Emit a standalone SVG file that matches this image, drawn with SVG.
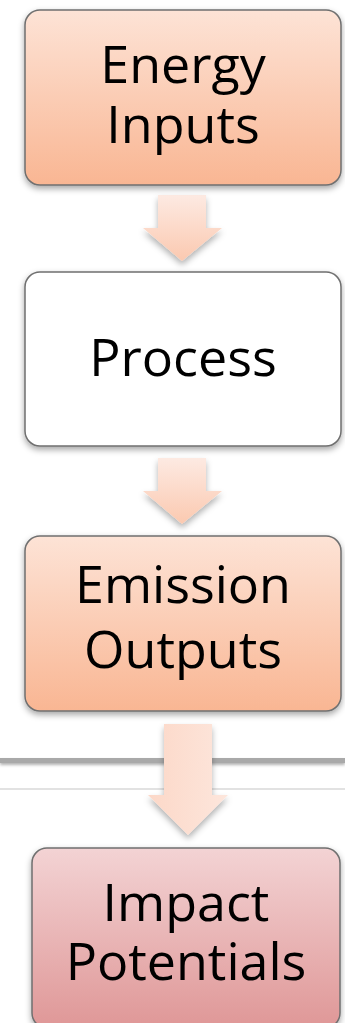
<svg xmlns="http://www.w3.org/2000/svg" width="345" height="1023" viewBox="0 0 345 1023">
<defs>
<linearGradient id="peach" x1="0" y1="0" x2="0" y2="1">
<stop offset="0" stop-color="#fde3d6"/>
<stop offset="1" stop-color="#f9b693"/>
</linearGradient>
<linearGradient id="pink" x1="0" y1="0" x2="0" y2="1">
<stop offset="0" stop-color="#f3d3d4"/>
<stop offset="1" stop-color="#df9797"/>
</linearGradient>
<linearGradient id="arrowg" x1="0" y1="0" x2="0" y2="1">
<stop offset="0" stop-color="#fdeae2"/>
<stop offset="1" stop-color="#fbc9b0"/>
</linearGradient>
<linearGradient id="arrowh" x1="0" y1="0" x2="1" y2="0">
<stop offset="0" stop-color="#fcd8c8"/>
<stop offset="1" stop-color="#fde6dc"/>
</linearGradient>
<filter id="sh" x="-10%" y="-10%" width="120%" height="130%">
<feDropShadow dx="0" dy="3" stdDeviation="3" flood-color="#000" flood-opacity="0.35"/>
</filter>
<filter id="ash" x="-20%" y="-20%" width="140%" height="150%">
<feDropShadow dx="0" dy="4" stdDeviation="3" flood-color="#000" flood-opacity="0.3"/>
</filter>
<filter id="lsh" x="-5%" y="-100%" width="110%" height="400%">
<feDropShadow dx="0" dy="2" stdDeviation="1.5" flood-color="#000" flood-opacity="0.3"/>
</filter>
</defs>
<style>
.box{stroke:#6f6f6f;stroke-width:1.5;filter:url(#sh)}
.t{font-family:"Open Sans","Noto Sans",sans-serif;font-size:52px;fill:#000;text-anchor:middle}
.arr{filter:url(#ash)}
</style>
<g id="background">
<rect x="0" y="758" width="345" height="5" fill="#a9a9a9" filter="url(#lsh)"/>
<rect x="0" y="788" width="345" height="2" fill="#e2e2e2"/>
</g>
<g id="connectors">
<path class="arr" d="M158,195 H206 V228 H222 L182,261 L143,228 H158 Z" fill="url(#arrowg)"/>
<path class="arr" d="M158,458 H206 V491 H222 L182,524 L143,491 H158 Z" fill="url(#arrowg)"/>
<path class="arr" d="M164,724 H212 V795 H228 L188,835 L148,795 H164 Z" fill="url(#arrowh)"/>
</g>
<g id="energy-inputs">
<rect class="box" x="25" y="10" width="316" height="175" rx="15" fill="url(#peach)"/>
<text class="t" x="183" y="83">Energy</text>
<text class="t" x="183" y="143">Inputs</text>
</g>
<g id="process">
<rect class="box" x="25" y="272" width="316" height="174" rx="15" fill="#ffffff"/>
<text class="t" x="183" y="376">Process</text>
</g>
<g id="emission-outputs">
<rect class="box" x="25" y="536" width="316" height="175" rx="15" fill="url(#peach)"/>
<text class="t" x="183" y="603">Emission</text>
<text class="t" x="183" y="668">Outputs</text>
</g>
<g id="impact-potentials">
<rect class="box" x="32" y="848" width="308" height="180" rx="15" fill="url(#pink)"/>
<text class="t" x="186" y="921">Impact</text>
<text class="t" x="186" y="980">Potentials</text>
</g>
</svg>
